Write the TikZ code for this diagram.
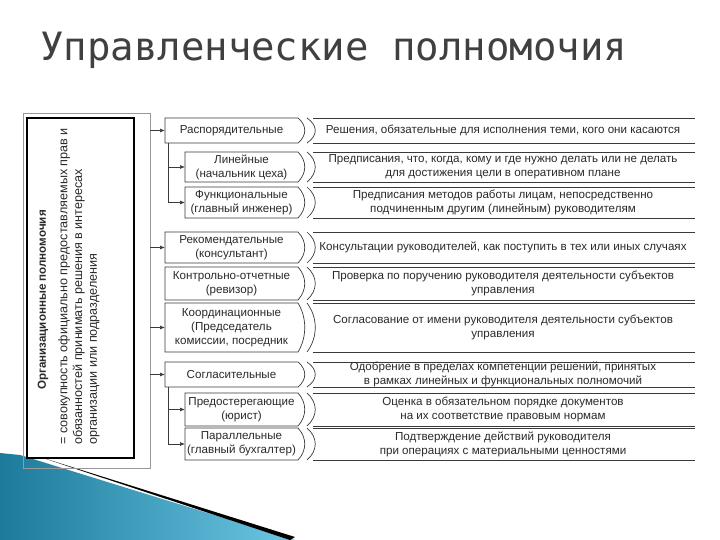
\documentclass[tikz,border=0pt]{standalone}
\usepackage{fontspec}
\setmainfont{Liberation Sans}
\newfontfamily\titlefont{DejaVu Sans Mono}
\usetikzlibrary{arrows.meta}
\definecolor{ln}{HTML}{3A3A3A}
\definecolor{tx}{HTML}{2A2A2A}
\definecolor{tealA}{HTML}{1C7A9A}
\definecolor{tealB}{HTML}{6CC6E4}
\tikzset{
  bx/.style={draw=ln, line width=0.7pt},
  lt/.style={font=\fontsize{11.6}{13.8}\selectfont, text=tx, align=center, inner sep=0pt},
  arr/.style={draw=ln, line width=0.7pt, -{Latex[length=5pt,width=4pt]}},
}
\newcommand\lbox[6]{%
  \draw[bx] (#2,#3) -- (#4,#3) .. controls (#4+9,#3+0.3*#5-0.3*#3) and (#4+9,#3+0.7*#5-0.7*#3) .. (#4,#5) -- (#2,#5) -- cycle;
  \node[lt] (#1) at ({(#2+#4)/2},{(#3+#5)/2}) {#6};
  \coordinate (#1w) at (#2,{(#3+#5)/2});
}
\newcommand\rbox[4]{%
  \draw[bx] (307,#2) .. controls (318,#2+0.3*#3-0.3*#2) and (318,#2+0.7*#3-0.7*#2) .. (307,#3);
  \draw[bx] (313,#2) -- (695,#2);
  \draw[bx] (313,#3) -- (695,#3);
  \node[lt] (#1) at (503,{(#2+#3)/2}) {#4};
}
\begin{document}
\begin{tikzpicture}[x=1pt,y=-1pt]
\useasboundingbox (0,0) rectangle (720,540);
\fill[white] (0,0) rectangle (720,540);
% swoosh
\shade[left color=tealA, right color=tealB] (0,453) -- (20,455) -- (295,540) -- (0,540) -- cycle;
\fill[black] (40,457) -- (295,537) -- (290,540) -- cycle;
% title
\node[anchor=west, inner sep=0pt, text=black!75, font=\titlefont\fontsize{39}{40}\selectfont] (title) at (40,50) {Управленческие полномочия};
% left frame
\draw[draw=black!40, line width=0.6pt] (23,113) rectangle (150,468);
\draw[draw=black, line width=2pt] (27,118) rectangle (134,458);
\node[rotate=90, anchor=center, inner sep=0pt, font=\bfseries\fontsize{11.6}{13}\selectfont, text=tx] (org) at (43,300) {Организационные полномочия};
\node[rotate=90, anchor=north west, inner sep=0pt, align=left, font=\fontsize{12.6}{14.8}\selectfont, text=tx] (def) at (58,445) {= совокупность официально предоставляемых прав и\\обязанностей принимать решения в интересах\\организации или подразделения};
% left boxes
\lbox{a1}{165}{118}{298}{143}{Распорядительные}
\lbox{a2}{185}{152}{298}{182}{Линейные\\(начальник цеха)}
\lbox{a3}{185}{187}{298}{218}{Функциональные\\(главный инженер)}
\lbox{a4}{165}{232}{298}{263}{Рекомендательные\\(консультант)}
\lbox{a5}{165}{267}{298}{300}{Контрольно-отчетные\\(ревизор)}
\lbox{a6}{165}{303}{298}{352}{Координационные\\(Председатель\\комиссии, посредник}
\lbox{a7}{165}{362}{298}{387}{Согласительные}
\lbox{a8}{185}{393}{298}{426}{Предостерегающие\\(юрист)}
\lbox{a9}{185}{428}{298}{460}{Параллельные\\(главный бухгалтер)}
% right boxes
\rbox{b1}{118}{143}{Решения, обязательные для исполнения теми, кого они касаются}
\rbox{b2}{152}{182}{Предписания, что, когда, кому и где нужно делать или не делать\\для достижения цели в оперативном плане}
\rbox{b3}{187}{218}{Предписания методов работы лицам, непосредственно\\подчиненным другим (линейным) руководителям}
\rbox{b4}{232}{263}{Консультации руководителей, как поступить в тех или иных случаях}
\rbox{b5}{267}{300}{Проверка по поручению руководителя деятельности субъектов\\управления}
\rbox{b6}{303}{352}{Согласование от имени руководителя деятельности субъектов\\управления}
\rbox{b7}{362}{387}{Одобрение в пределах компетенции решений, принятых\\в рамках линейных и функциональных полномочий}
\rbox{b8}{393}{426}{Оценка в обязательном порядке документов\\на их соответствие правовым нормам}
\rbox{b9}{428}{460}{Подтверждение действий руководителя\\при операциях с материальными ценностями}
% arrows
\foreach \n in {a1,a4,a6,a7} \draw[arr] (150,0 |- \n w) -- (\n w);
\coordinate (s1) at (168,143);
\coordinate (s2) at (168,387);
\draw[bx] (s1) -- (168,0 |- a3w);
\draw[arr] (168,0 |- a2w) -- (a2w);
\draw[arr] (168,0 |- a3w) -- (a3w);
\draw[bx] (s2) -- (168,0 |- a9w);
\draw[arr] (168,0 |- a8w) -- (a8w);
\draw[arr] (168,0 |- a9w) -- (a9w);
\end{tikzpicture}
\end{document}
